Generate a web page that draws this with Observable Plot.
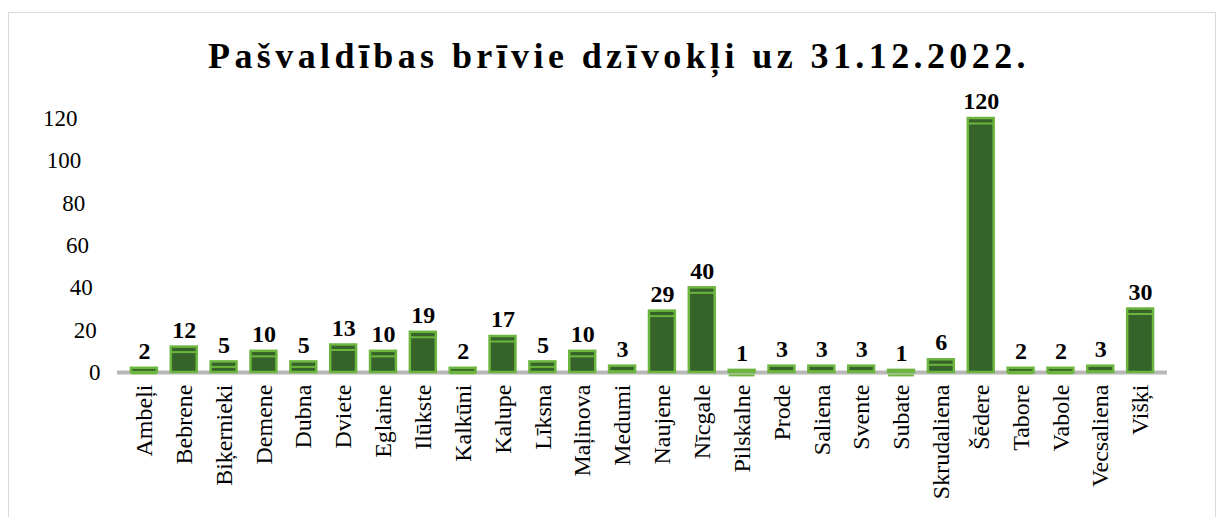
<!DOCTYPE html>
<html>
<head>
<meta charset="utf-8">
<script src="https://cdn.jsdelivr.net/npm/d3@7"></script>
<script src="https://cdn.jsdelivr.net/npm/@observablehq/plot@0.6"></script>
<style>
  html, body { margin: 0; padding: 0; background: #fff; }
  #frame {
    position: absolute; left: 8px; top: 12px; width: 1208px; height: 520px;
    border: 1px solid #d9d9d9; box-sizing: border-box; overflow: hidden;
    font-family: "Liberation Serif", "Times New Roman", serif;
  }
  #title {
    position: absolute; left: 0; top: 22px; width: 1220px; text-align: center;
    font-weight: bold; font-size: 36px; letter-spacing: 4.4px; color: #000;
  }
  #chart { position: absolute; left: 0; top: 76px; }
</style>
</head>
<body>
<div id="frame">
  <div id="title">Pašvaldības brīvie dzīvokļi uz 31.12.2022.</div>
  <div id="chart"></div>
</div>
<script>
const categories = ["Ambeļi","Bebrene","Biķernieki","Demene","Dubna","Dviete","Eglaine","Ilūkste","Kalkūni","Kalupe","Līksna","Maļinova","Medumi","Naujene","Nīcgale","Pilskalne","Prode","Saliena","Svente","Subate","Skrudaliena","Šēdere","Tabore","Vabole","Vecsaliena","Višķi"];
const values = [2,12,5,10,5,13,10,19,2,17,5,10,3,29,40,1,3,3,3,1,6,120,2,2,3,30];
const yTicks = [0,20,40,60,80,100,120];

const data = categories.map((c, i) => ({name: c, value: values[i]}));

const fill = "#36632a";
const edge = "#6cb63f";

// the reference's y labels lean with the 3D perspective: one axis per tick, each with its own padding
const yAxes = yTicks.map(t => Plot.axisY([t], {
  tickSize: 0, tickPadding: 17 + 23 * t / 120, fontSize: 23, tickFormat: d => String(d)
}));

const chart = Plot.plot({
  width: 1206,
  height: 427,
  marginLeft: 108,
  marginRight: 48,
  marginTop: 29,
  marginBottom: 144,
  style: {fontFamily: "'Liberation Serif', 'Times New Roman', serif", background: "transparent", color: "#000"},
  x: {domain: categories, padding: 0.35, round: false, label: null},
  y: {domain: [0, 120], label: null},
  marks: [
    Plot.ruleY([0], {stroke: "#b8b8b8", strokeWidth: 4}),
    Plot.barY(data, {x: "name", y: "value", fill: fill, stroke: edge, strokeWidth: 2.5}),
    Plot.tickY(data, {x: "name", y: "value", dy: 5, stroke: edge, strokeWidth: 2}),
    Plot.text(data, {x: "name", y: "value", text: d => String(d.value), dy: -17, fontSize: 24, fontWeight: "bold", fill: "#000"}),
    ...yAxes,
    Plot.axisX({tickSize: 0, tickPadding: 12, tickRotate: -90, fontSize: 24, label: null})
  ]
});
document.getElementById("chart").appendChild(chart);
</script>
</body>
</html>
